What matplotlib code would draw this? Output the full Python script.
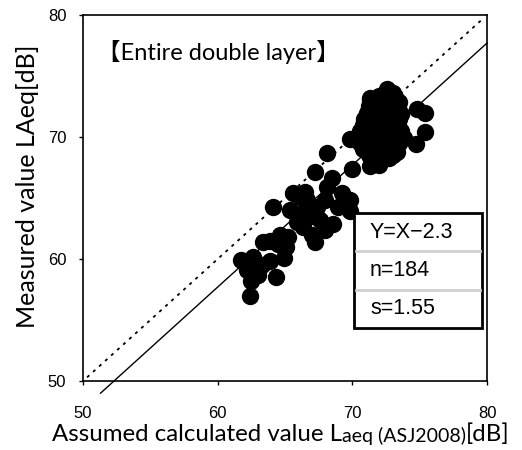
import matplotlib
matplotlib.use("Agg")
import matplotlib.pyplot as plt
import numpy as np

# calculated (x) vs measured (y) LAeq
calc_low = [62.4, 64.3, 61.7, 62.6, 63.0, 62.2, 63.9, 64.9, 63.4, 63.9, 65.1, 64.6,
            65.2, 64.1, 67.2, 65.6, 65.4, 66.1, 66.3, 66.6, 67.4, 67.6, 68.0, 68.6,
            67.2, 68.0, 68.5, 68.1, 69.2, 69.8, 69.8, 68.9, 66.1, 66.9, 68.1, 70.0,
            69.8, 62.5, 63.3, 64.5, 66.8, 67.0, 65.9, 66.5]
meas_low = [57.0, 58.5, 59.9, 60.2, 58.7, 59.1, 59.8, 60.1, 61.4, 61.5, 61.0, 62.0,
            61.8, 64.3, 61.4, 65.4, 64.0, 63.7, 62.6, 64.8, 64.3, 63.2, 62.4, 62.9,
            67.1, 64.8, 66.6, 68.7, 65.4, 64.8, 63.9, 64.3, 65.1, 63.5, 65.9, 67.4,
            69.8, 58.2, 59.5, 61.2, 64.0, 62.0, 63.0, 65.5]

calc_high = [72.6, 73.0,
             71.3, 72.0, 72.6, 73.2,
             71.3, 71.9, 72.5, 73.1, 73.5,
             71.2, 71.7, 72.2, 72.8, 73.4,
             71.1, 71.6, 72.1, 72.7, 73.3, 73.6, 75.4, 74.8,
             70.9, 71.4, 72.0, 72.5, 73.0, 73.5,
             70.8, 71.3, 71.8, 72.4, 72.9, 73.4,
             70.6, 71.1, 71.6, 72.2, 72.7, 73.2, 73.6, 75.4,
             70.5, 71.0, 71.6, 72.1, 72.7, 73.3, 73.8,
             70.6, 71.1, 71.7, 72.3, 72.9, 73.5, 74.7,
             70.8, 71.3, 71.9, 72.5, 73.1,
             71.2, 71.8, 72.4, 73.0,
             71.5, 72.2, 71.3, 72.7, 73.3, 72.0]
meas_high = [73.9, 73.6,
             73.2, 73.4, 73.5, 73.3,
             73.0, 73.0, 73.0, 73.0, 72.9,
             72.5, 72.5, 72.5, 72.5, 72.5,
             72.0, 72.0, 72.0, 72.0, 72.0, 71.9, 72.0, 72.3,
             71.5, 71.5, 71.5, 71.5, 71.5, 71.5,
             71.0, 71.0, 71.0, 71.0, 71.0, 71.0,
             70.5, 70.5, 70.5, 70.5, 70.5, 70.5, 70.5, 70.4,
             70.0, 70.0, 70.0, 70.0, 70.0, 70.0, 69.9,
             69.5, 69.5, 69.5, 69.5, 69.5, 69.5, 69.4,
             69.0, 69.0, 69.0, 69.0, 69.0,
             68.5, 68.5, 68.5, 68.5,
             68.0, 68.1, 67.6, 68.3, 68.8, 67.7]

fit_offset = -2.3
stats = ["Y=X\u22122.3", "n=184", "s=1.55"]

calc = np.array(calc_low + calc_high)
meas = np.array(meas_low + meas_high)

fig = plt.figure(figsize=(5.22, 4.5), dpi=100)
ax = fig.add_axes([0.159, 0.1533, 0.774, 0.8134])

ax.plot(calc, meas, "o", color="black", markersize=12.5, markeredgewidth=0, zorder=3)

# 1:1 line and fitted line
ax.plot([50.3, 79.7], [50.3, 79.7], color="black", lw=1.3,
        ls=(0, (1.7, 2.8)), zorder=2)
fx = np.array([51.3, 80.0])
ax.plot(fx, fx + fit_offset, color="black", lw=1.0, clip_on=False, zorder=2)

ax.set_xlim(50, 80)
ax.set_ylim(50, 80)
ax.set_xticks([50, 60, 70, 80])
ax.set_yticks([50, 60, 70, 80])
ax.tick_params(direction="out", length=3, width=1)
ax.tick_params(axis="x", pad=15)
ax.tick_params(axis="y", pad=9)
plt.setp(ax.get_xticklabels() + ax.get_yticklabels(),
         fontsize=12, family="Liberation Sans")
for sp in ax.spines.values():
    sp.set_linewidth(1.2)

label_font = ["Lato", "Noto Sans CJK JP"]
ax.text(0.035, 0.898, "\u3010Entire double layer\u3011", transform=ax.transAxes,
        fontsize=17, family=label_font, va="center", ha="left")

fig.text(0.053, 0.587, "Measured value LAeq[dB]", rotation=90, fontsize=18,
         family=label_font, va="center", ha="center")

# x label built from pieces with mixed sizes
t1 = fig.text(0.1, 0.012, "Assumed calculated value L", fontsize=17.3,
              family=label_font, va="bottom", ha="left")
t2 = ax.annotate("aeq (ASJ2008)", xy=(1, 0), xycoords=t1, fontsize=14,
                 family=label_font, va="bottom", ha="left",
                 annotation_clip=False)
t3 = ax.annotate("[dB]", xy=(1, 0), xycoords=t2, fontsize=17.3,
                 family=label_font, va="bottom", ha="left",
                 annotation_clip=False)

# statistics table box
bx0, bx1 = 354 / 522, 482 / 522
by1, by0 = 1 - 213 / 450, 1 - 328 / 450
fig.patches.append(plt.Rectangle((bx0, by0), bx1 - bx0, by1 - by0,
                                 transform=fig.transFigure, facecolor="white",
                                 edgecolor="black", lw=2, zorder=5))
row_h = (by1 - by0) / 3
for i, s in enumerate(stats):
    yc = by1 - (i + 0.5) * row_h
    fig.text(370 / 522, yc, s, fontsize=15.5, family="Liberation Sans",
             va="center", ha="left", zorder=6)
    if i > 0:
        yl = by1 - i * row_h
        fig.lines.append(plt.Line2D([bx0 + 0.003, bx1 - 0.003], [yl, yl],
                                    transform=fig.transFigure, color="#d0d0d0",
                                    lw=2, zorder=6))

fig.savefig("out.png", dpi=100)
